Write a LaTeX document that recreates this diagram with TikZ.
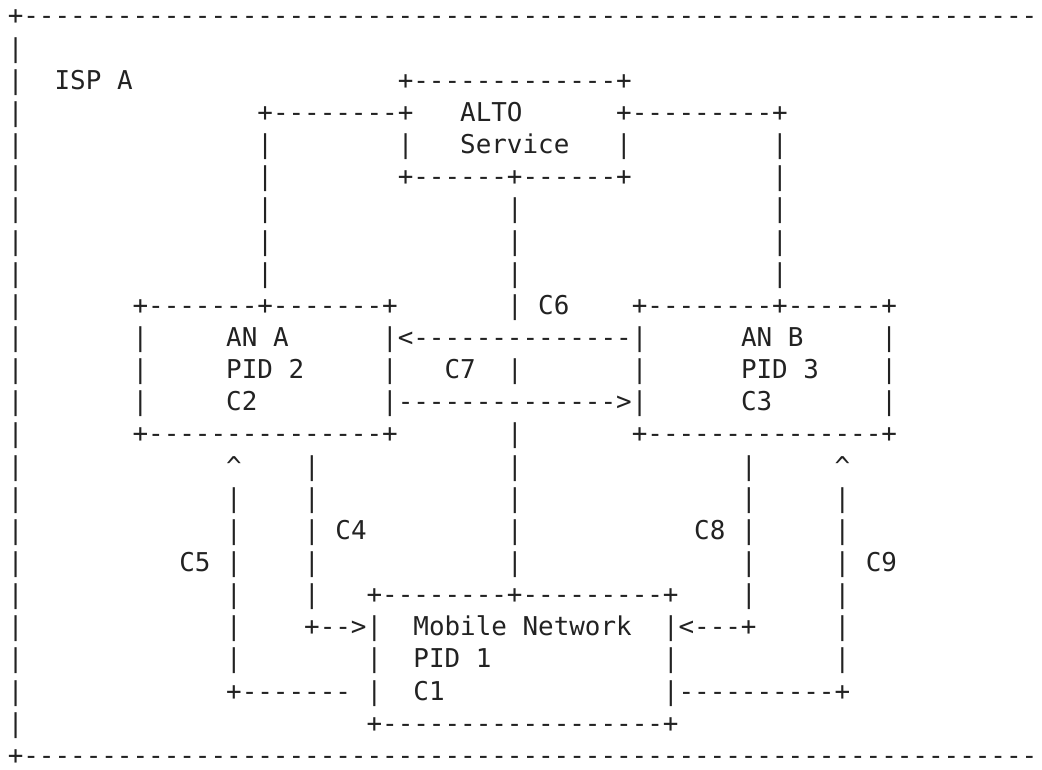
\documentclass[tikz,border=0pt]{standalone}
\usepackage{fontspec}
\setmonofont{DejaVu Sans Mono}
\definecolor{ink}{HTML}{222222}
\ExplSyntaxOn
\cs_new:Npn \myrep #1#2 { \prg_replicate:nn {#1} {#2} }
\ExplSyntaxOff
\tikzset{ch/.style={anchor=base west, inner sep=0pt, outer sep=0pt, text=ink,
  font=\ttfamily\fontsize{25.91pt}{31pt}\selectfont}}
\newcommand\row[2]{\foreach \cc/\tx in {#2}{\node[ch] (r#1c\cc) at ({7.8+15.6*\cc},{744-32.15*#1}) {\tx};}}
\begin{document}
\begin{tikzpicture}[x=1pt,y=1pt]
\fill[white] (0,0) rectangle (1042,769);
\useasboundingbox (0,0) rectangle (1042,769);
\row{0}{0/+\myrep{65}{-}}
\row{1}{0/|}
\row{2}{0/|,3/ISP,7/A,25/+\myrep{13}{-}+}
\row{3}{0/|,16/+\myrep{8}{-}+,29/ALTO,39/+\myrep{9}{-}+}
\row{4}{0/|,16/|,25/|,29/Service,39/|,49/|}
\row{5}{0/|,16/|,25/+\myrep{6}{-}+\myrep{6}{-}+,49/|}
\row{6}{0/|,16/|,32/|,49/|}
\row{7}{0/|,16/|,32/|,49/|}
\row{8}{0/|,16/|,32/|,49/|}
\row{9}{0/|,8/+\myrep{7}{-}+\myrep{7}{-}+,32/|,34/C6,40/+\myrep{8}{-}+\myrep{6}{-}+}
\row{10}{0/|,8/|,14/AN,17/A,24/|<\myrep{14}{-}|,47/AN,50/B,56/|}
\row{11}{0/|,8/|,14/PID,18/2,24/|,28/C7,32/|,40/|,47/PID,51/3,56/|}
\row{12}{0/|,8/|,14/C2,24/|\myrep{14}{-}>|,47/C3,56/|}
\row{13}{0/|,8/+\myrep{15}{-}+,32/|,40/+\myrep{15}{-}+}
\row{14}{0/|,14/\textasciicircum,19/|,32/|,47/|,53/\textasciicircum}
\row{15}{0/|,14/|,19/|,32/|,47/|,53/|}
\row{16}{0/|,14/|,19/|,21/C4,32/|,44/C8,47/|,53/|}
\row{17}{0/|,11/C5,14/|,19/|,32/|,47/|,53/|,55/C9}
\row{18}{0/|,14/|,19/|,23/+\myrep{8}{-}+\myrep{9}{-}+,47/|,53/|}
\row{19}{0/|,14/|,19/+-->|,26/Mobile,33/Network,42/|<---+,53/|}
\row{20}{0/|,14/|,23/|,26/PID,30/1,42/|,53/|}
\row{21}{0/|,14/+\myrep{7}{-},23/|,26/C1,42/|\myrep{10}{-}+}
\row{22}{0/|,23/+\myrep{18}{-}+}
\row{23}{0/+\myrep{65}{-}}
\end{tikzpicture}
\end{document}
